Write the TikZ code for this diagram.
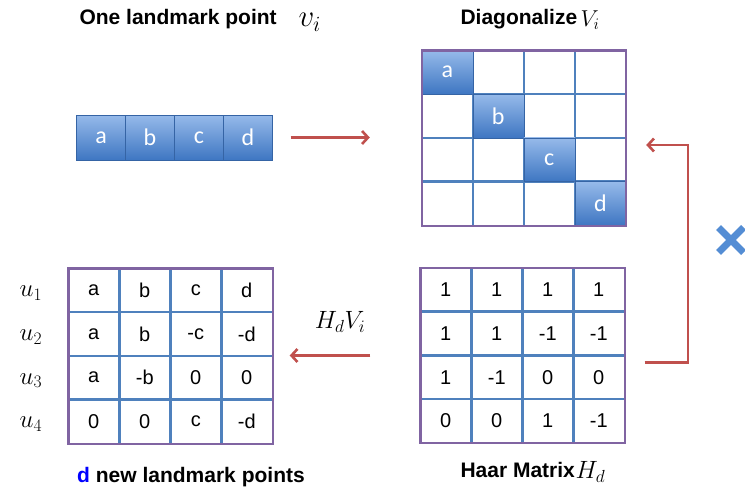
\RequirePackage{fix-cm}
\documentclass[tikz,border=0pt]{standalone}
\usepackage{fontspec}
\setmainfont{Liberation Sans}
\newfontfamily\cellfont{Carlito}
\usetikzlibrary{arrows.meta,positioning,shapes.misc}
\definecolor{matpurple}{RGB}{128,100,162}
\definecolor{gridblue}{RGB}{79,129,189}
\definecolor{celltop}{RGB}{150,186,234}
\definecolor{cellbot}{RGB}{62,118,194}
\definecolor{arrowred}{RGB}{192,80,77}
\definecolor{crossblue}{RGB}{84,141,212}

\begin{document}
\begin{tikzpicture}[
    x=1pt, y=-1pt,
    mat/.style={rectangle, minimum width=204pt, minimum height=175pt, inner sep=0pt},
    border/.style={draw=matpurple, line width=2.4pt},
    gridline/.style={draw=gridblue, line width=2.4pt},
    bluecell/.style={rectangle, draw=cellbot!85!black, thin, top color=celltop, bottom color=cellbot, minimum width=49pt, minimum height=45pt, inner sep=0pt, text=white, font=\cellfont\fontsize{24}{26}\selectfont},
    entry/.style={font=\fontsize{20}{22}\selectfont},
    title/.style={font=\bfseries\fontsize{21}{24}\selectfont},
    sym/.style={font=\fontsize{25}{27}\selectfont},
    arrow/.style={-{Straight Barb[length=6pt, width=13pt]}, draw=arrowred, line width=2.6pt}
]
    \useasboundingbox (0,0) rectangle (745,493);

    % Top left: one landmark point
    \node[title, anchor=west] (ttlvec) at (76,19) {One landmark point};
    \node[sym, anchor=west, font=\fontsize{31}{33}\selectfont] (vi) at (295,22) {$v_i$};
    \node[mat, minimum width=196pt, minimum height=45pt] (vec) at (174.5,137.5) {};
    \foreach \l [count=\k] in {a,b,c,d}
        \node[bluecell, anchor=west] (v\l) at ([xshift={(\k-1)*49pt}]vec.west) {\l};

    % Top right: diagonal matrix
    \node[title, anchor=west] (ttldiag) at (457,19) {Diagonalize};
    \node[sym, anchor=west, font=\fontsize{23}{25}\selectfont] (Vi) at (577,20) {$V_i$};
    \node[mat] (diag) at (524,138) {};
    \foreach \i in {1,2,3} {
        \draw[gridline] ([xshift=\i*51pt]diag.north west) -- ([xshift=\i*51pt]diag.south west);
        \draw[gridline] ([yshift={-\i*43.75pt}]diag.north west) -- ([yshift={-\i*43.75pt}]diag.north east);
    }
    \foreach \l [count=\k] in {a,b,c,d}
        \node[bluecell, minimum width=51pt, minimum height=43.75pt] (d\l) at ([xshift={(\k-0.5)*51pt}, yshift={-(\k-0.5)*43.75pt}]diag.north west) {\l};
    \draw[border] (diag.north west) rectangle (diag.south east);

    % Bottom right: Haar matrix
    \node[mat] (haar) at (522.5,355.5) {};
    \foreach \i in {1,2,3} {
        \draw[gridline] ([xshift=\i*51pt]haar.north west) -- ([xshift=\i*51pt]haar.south west);
        \draw[gridline] ([yshift={-\i*43.75pt}]haar.north west) -- ([yshift={-\i*43.75pt}]haar.north east);
    }
    \foreach \row [count=\r] in {{1,1,1,1},{1,1,-1,-1},{1,-1,0,0},{0,0,1,-1}}
        \foreach \v [count=\c] in \row
            \node[entry] (h\r\c) at ([xshift={(\c-0.5)*51pt}, yshift={-(\r-0.5)*43.75pt}]haar.north west) {\v};
    \draw[border] (haar.north west) rectangle (haar.south east);
    \node[title, anchor=west] (ttlhaar) at (457,470) {Haar Matrix};
    \node[sym, anchor=west] (Hd) at (572,472) {$H_d$};

    % Bottom left: new landmark points
    \node[mat] (newpts) at (170.5,356) {};
    \foreach \i in {1,2,3} {
        \draw[gridline] ([xshift=\i*51pt]newpts.north west) -- ([xshift=\i*51pt]newpts.south west);
        \draw[gridline] ([yshift={-\i*43.75pt}]newpts.north west) -- ([yshift={-\i*43.75pt}]newpts.north east);
    }
    \foreach \row [count=\r] in {{a,b,c,d},{a,b,-c,-d},{a,-b,0,0},{0,0,c,-d}}
        \foreach \v [count=\c] in \row
            \node[entry] (n\r\c) at ([xshift={(\c-0.5)*51pt}, yshift={-(\r-0.5)*43.75pt}]newpts.north west) {\v};
    \draw[border] (newpts.north west) rectangle (newpts.south east);
    \foreach \k in {1,...,4}
        \node[sym] (u\k) at ([xshift=-63pt, yshift=-3pt]n\k1) {$u_\k$};
    \node[title] (ttlnew) at (191,477) {\textcolor{blue}{d} new landmark points};

    % Arrows
    \draw[arrow, shorten <=18pt, shorten >=52pt] (vec.east) -- (vec.east -| diag.west);
    \draw[arrow, shorten <=50pt, shorten >=17pt] (haar.west) -- (haar.west -| newpts.east);
    \node[sym] (HV) at (340,322) {$H_dV_i$};
    \coordinate (corner) at (688,145);
    \draw[arrow, shorten <=20pt, shorten >=20pt] ([yshift=-7pt]haar.east) -| (corner) -- ([yshift=-7pt]diag.east);

    % Multiplication sign
    \node[draw=crossblue, cross out, line width=7pt, minimum size=18pt, inner sep=0pt] (times) at (731,240) {};
\end{tikzpicture}
\end{document}
